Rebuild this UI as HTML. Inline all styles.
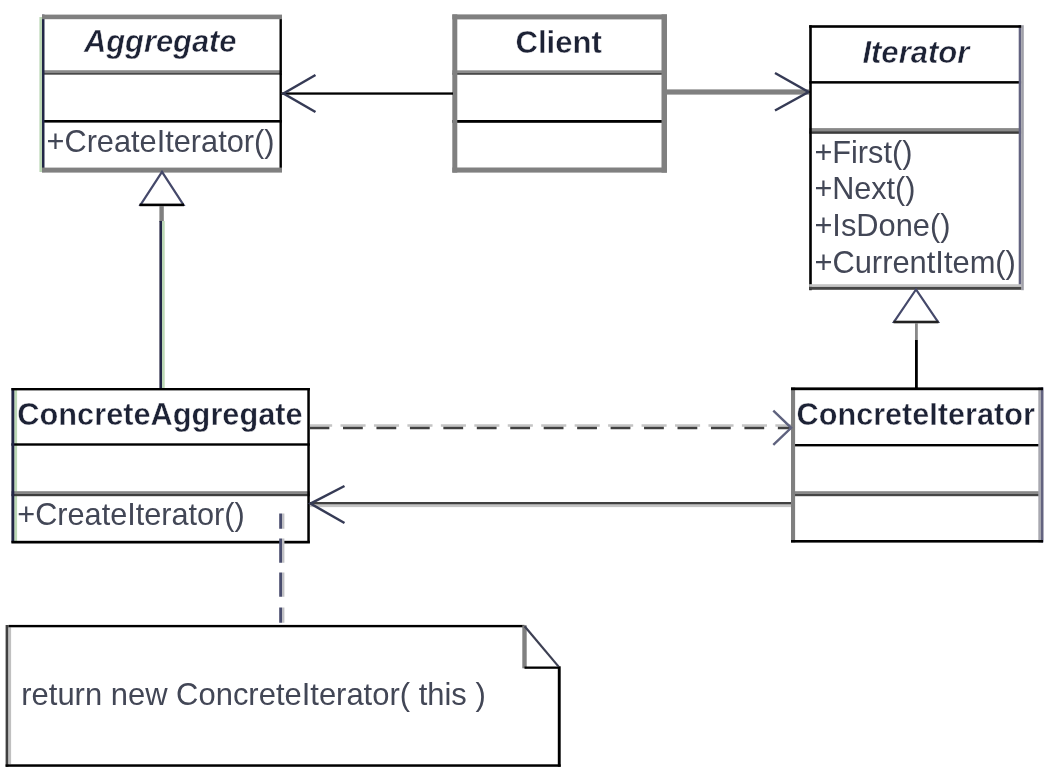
<!DOCTYPE html>
<html><head><meta charset="utf-8"><title>Iterator Pattern</title>
<style>
html,body{margin:0;padding:0;background:#fff;}
body{width:1052px;height:781px;overflow:hidden;}
svg{display:block;}
text{font-family:"Liberation Sans",sans-serif;fill:#1f2236;}
.r{fill:#434656;}
.b{font-weight:bold;stroke:#fff;stroke-width:0.4px;paint-order:fill;}
.bi{font-weight:bold;font-style:italic;stroke:#fff;stroke-width:0.5px;paint-order:fill;}
.r{font-weight:normal;fill:#434656;}
</style></head>
<body>
<svg width="1052" height="781" viewBox="0 0 1052 781">
<defs><filter id="bl" filterUnits="userSpaceOnUse" x="0" y="0" width="1052" height="781"><feGaussianBlur stdDeviation="0.38"/></filter></defs>
<rect x="0" y="0" width="1052" height="781" fill="#fff"/>
<g filter="url(#bl)">
<rect x="39.4" y="17" width="2.8" height="155" fill="#bcd8b6"/>
<rect x="42" y="70.2" width="240" height="2.3" fill="#8a8a8a"/>
<rect x="42" y="72.5" width="240" height="2.2" fill="#4a4a4a"/>
<rect x="42" y="120" width="240" height="2.6" fill="#000"/>
<rect x="42" y="14.6" width="2.5" height="157.5" fill="#232846"/>
<rect x="279.5" y="16.8" width="2.4" height="155" fill="#000"/>
<rect x="42" y="14.6" width="240" height="4.6" fill="#808080"/>
<rect x="42" y="167.6" width="240" height="5" fill="#808080"/>
<text class="bi" x="84" y="52.1" font-size="31" textLength="152.5" lengthAdjust="spacingAndGlyphs">Aggregate</text>
<text class="r" x="46.5" y="151.7" font-size="32" textLength="228" lengthAdjust="spacingAndGlyphs">+CreateIterator()</text>
<rect x="452.3" y="70.3" width="214" height="2.3" fill="#8a8a8a"/>
<rect x="452.3" y="72.6" width="214" height="2.2" fill="#4a4a4a"/>
<rect x="452.3" y="120" width="214" height="2.8" fill="#000"/>
<rect x="452.3" y="14.4" width="5" height="158.2" fill="#808080"/>
<rect x="661.5" y="14.4" width="5.5" height="158.2" fill="#808080"/>
<rect x="452.3" y="14.4" width="214.6" height="5" fill="#808080"/>
<rect x="452.3" y="167.5" width="214.6" height="5.1" fill="#808080"/>
<text class="b" x="515.4" y="53" font-size="31" textLength="86.5" lengthAdjust="spacingAndGlyphs">Client</text>
<rect x="282" y="92.4" width="171" height="2.3" fill="#000"/>
<path d="M315.5 75 L283.5 93.5 L315.5 112" fill="none" stroke="#363a55" stroke-width="2.5"/>
<rect x="666" y="89.4" width="143" height="5.2" fill="#808080"/>
<path d="M775 73 L808.5 92 L775 110.5" fill="none" stroke="#363a55" stroke-width="2.5"/>
<rect x="809.2" y="81.1" width="212" height="2.5" fill="#000"/>
<rect x="809.2" y="128.1" width="212" height="3.1" fill="#888"/>
<rect x="809.2" y="131.2" width="212" height="2.6" fill="#3a3a3a"/>
<rect x="809.2" y="25.2" width="2.6" height="265" fill="#000"/>
<rect x="1018.7" y="25.2" width="2.5" height="261" fill="#646480"/>
<rect x="1021.2" y="25.2" width="2.6" height="265" fill="#a0a0a8"/>
<rect x="809.2" y="25.2" width="212" height="2.6" fill="#000"/>
<rect x="809.2" y="284.2" width="212" height="2.7" fill="#c4c4c4"/>
<rect x="809.2" y="286.9" width="212" height="2.9" fill="#444"/>
<text class="bi" x="862.4" y="63" font-size="31" textLength="107" lengthAdjust="spacingAndGlyphs">Iterator</text>
<text class="r" x="814.4" y="162.5" font-size="32" textLength="98" lengthAdjust="spacingAndGlyphs">+First()</text>
<text class="r" x="814.4" y="199.1" font-size="32" textLength="101" lengthAdjust="spacingAndGlyphs">+Next()</text>
<text class="r" x="814.4" y="235.9" font-size="32" textLength="136" lengthAdjust="spacingAndGlyphs">+IsDone()</text>
<text class="r" x="814.4" y="273.1" font-size="32" textLength="201.5" lengthAdjust="spacingAndGlyphs">+CurrentItem()</text>
<path d="M916 289.5 L894 322 L938 322 Z" fill="#fff" stroke="#44486a" stroke-width="2.2"/>
<rect x="893.5" y="320.7" width="45" height="2.6" fill="#222"/>
<rect x="915" y="323" width="2.8" height="17" fill="#888"/>
<rect x="915" y="340" width="2.8" height="49" fill="#000"/>
<path d="M162 171.8 L140.5 205 L183.5 205 Z" fill="#fff" stroke="#44486a" stroke-width="2.2"/>
<rect x="139.5" y="203.6" width="44.5" height="2.6" fill="#000"/>
<rect x="159.4" y="206" width="4.4" height="16" fill="#808080"/>
<rect x="159.4" y="221" width="2.6" height="168" fill="#232846"/>
<rect x="162" y="221" width="2.7" height="168" fill="#bcd8b6"/>
<rect x="14.3" y="390" width="2.8" height="151" fill="#bcd8b6"/>
<rect x="11.4" y="443.3" width="298.5" height="2.4" fill="#000"/>
<rect x="11.4" y="491.2" width="298.5" height="2.6" fill="#858585"/>
<rect x="11.4" y="493.8" width="298.5" height="2.4" fill="#3c3c3c"/>
<rect x="11.4" y="388" width="2.9" height="154.5" fill="#232846"/>
<rect x="307.3" y="388" width="2.5" height="154.5" fill="#000"/>
<rect x="11.4" y="388" width="298.5" height="2.4" fill="#000"/>
<rect x="11.4" y="540.8" width="298.5" height="2.7" fill="#000"/>
<text class="b" x="17.3" y="425.3" font-size="31" textLength="285.4" lengthAdjust="spacingAndGlyphs">ConcreteAggregate</text>
<text class="r" x="17.3" y="525.1" font-size="32" textLength="227.4" lengthAdjust="spacingAndGlyphs">+CreateIterator()</text>
<rect x="791" y="444" width="252" height="2.4" fill="#000"/>
<rect x="791" y="491.2" width="252" height="2.7" fill="#888"/>
<rect x="791" y="493.9" width="252" height="2.3" fill="#444"/>
<rect x="791" y="387.4" width="4.1" height="155" fill="#808080"/>
<rect x="1038.3" y="387.4" width="2.7" height="155" fill="#a8a8b0"/>
<rect x="1041" y="387.4" width="2.5" height="155" fill="#646480"/>
<rect x="791" y="387.4" width="252" height="2.8" fill="#000"/>
<rect x="791" y="540" width="252" height="2.6" fill="#000"/>
<text class="b" x="796.6" y="424.8" font-size="31" textLength="238.3" lengthAdjust="spacingAndGlyphs">ConcreteIterator</text>
<line x1="310" y1="425.5" x2="791" y2="425.5" stroke="#c4c4c4" stroke-width="2.5" stroke-dasharray="25.1 8.35" stroke-dashoffset="2.95"/>
<line x1="310" y1="428" x2="791" y2="428" stroke="#404040" stroke-width="2.5" stroke-dasharray="19.8 13.65" stroke-dashoffset="0.45"/>
<path d="M773.3 410.6 L791.2 427.8 L773.3 444.9" fill="none" stroke="#5e627e" stroke-width="2.4"/>
<rect x="310" y="502" width="481" height="2.6" fill="#404040"/>
<rect x="310" y="504.6" width="481" height="2.5" fill="#c4c4c4"/>
<path d="M344.5 486 L310.5 503.6 L344.5 523" fill="none" stroke="#363a55" stroke-width="2.5"/>
<line x1="280.6" y1="513.4" x2="280.6" y2="626" stroke="#4a4e6e" stroke-width="2.8" stroke-dasharray="15.3 9.8 24.2 9.9 24.2 10.7"/>
<line x1="283.2" y1="513.4" x2="283.2" y2="626" stroke="#c0c0c4" stroke-width="2.4" stroke-dasharray="15.3 9.8 24.2 9.9 24.2 10.7"/>
<path d="M5.6 625 L524 625 L560.5 666.5 L560.5 766.8 L5.6 766.8 Z" fill="#fff"/>
<rect x="5.6" y="625" width="2.9" height="141.8" fill="#404040"/>
<rect x="8.5" y="627.3" width="2.6" height="137" fill="#c0c0c0"/>
<rect x="8.5" y="624.9" width="516" height="2.4" fill="#000"/>
<rect x="5.6" y="764.3" width="555" height="2.5" fill="#000"/>
<rect x="557.8" y="666.3" width="2.9" height="100.5" fill="#000"/>
<rect x="522.3" y="625.3" width="4.4" height="43" fill="#808080"/>
<rect x="524.5" y="666.5" width="35" height="2.3" fill="#000"/>
<path d="M524.6 626.2 L558.6 666.6" stroke="#3c3f52" stroke-width="2.2"/>
<text class="r" x="21.3" y="705.4" font-size="32" textLength="464.4" lengthAdjust="spacingAndGlyphs">return new ConcreteIterator( this )</text>
</g>
</svg>
</body></html>
